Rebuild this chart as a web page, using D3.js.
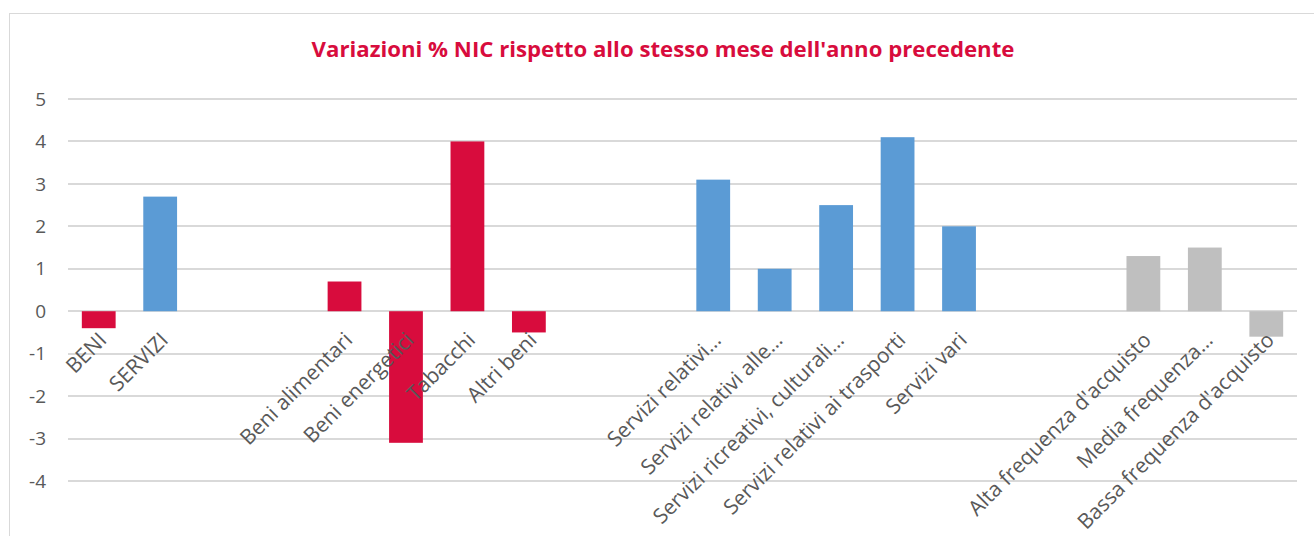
<!DOCTYPE html>
<html>
<head>
<meta charset="utf-8">
<script src="https://cdn.jsdelivr.net/npm/d3@7"></script>
<style>
  body { margin: 0; background: #fff; }
  svg { display: block; font-family: "Open Sans", sans-serif; }
</style>
</head>
<body>
<svg id="chart" width="1314" height="536"></svg>
<script>
// categories (empty strings are the blank gaps between groups)
var categories = ["BENI", "SERVIZI", "", "",
  "Beni alimentari", "Beni energetici", "Tabacchi", "Altri beni", "", "",
  "Servizi relativi…", "Servizi relativi alle…", "Servizi ricreativi, culturali…",
  "Servizi relativi ai trasporti", "Servizi vari", "", "",
  "Alta frequenza d'acquisto", "Media frequenza…", "Bassa frequenza d'acquisto"];
var values = [-0.4, 2.7, null, null,
  0.7, -3.1, 4.0, -0.5, null, null,
  3.1, 1.0, 2.5, 4.1, 2.0, null, null,
  1.3, 1.5, -0.6];
var groups = ["beni", "servizi", null, null,
  "beni", "beni", "beni", "beni", null, null,
  "servizi", "servizi", "servizi", "servizi", "servizi", null, null,
  "freq", "freq", "freq"];
var yTicks = [5, 4, 3, 2, 1, 0, -1, -2, -3, -4];
var title = "Variazioni % NIC rispetto allo stesso mese dell'anno precedente";

var colors = {beni: "#D80C3D", servizi: "#5B9BD5", freq: "#BFBFBF"};

var data = categories.map(function(c, i) {
  return {i: i, label: c, value: values[i], group: groups[i]};
});

var svg = d3.select("#chart");

// outer chart border
svg.append("rect")
  .attr("x", 9.5).attr("y", 13.5)
  .attr("width", 1320).attr("height", 540)
  .attr("fill", "none")
  .attr("stroke", "#d9d9d9");

var left = 68, right = 1297;

var x = d3.scaleBand()
  .domain(data.map(function(d) { return d.i; }))
  .range([left, right])
  .paddingInner(0.45)
  .paddingOuter(0.225);

var y = d3.scaleLinear()
  .domain([-4, 5])
  .range([481, 99]);

// gridlines
svg.append("g")
  .selectAll("line")
  .data(yTicks)
  .enter()
  .append("line")
    .attr("x1", left).attr("x2", right)
    .attr("y1", function(d) { return Math.round(y(d)); })
    .attr("y2", function(d) { return Math.round(y(d)); })
    .attr("stroke", "#d9d9d9")
    .attr("stroke-width", 2);

// y axis labels
svg.append("g")
  .selectAll("text")
  .data(yTicks)
  .enter()
  .append("text")
    .attr("x", 46)
    .attr("y", function(d) { return y(d); })
    .attr("dy", "0.35em")
    .attr("text-anchor", "end")
    .attr("fill", "#595959")
    .style("font-size", "19px")
    .text(function(d) { return d; });

// bars
svg.append("g")
  .selectAll("rect")
  .data(data.filter(function(d) { return d.value != null; }))
  .enter()
  .append("rect")
    .attr("x", function(d) { return x(d.i); })
    .attr("width", x.bandwidth())
    .attr("y", function(d) { return y(Math.max(0, d.value)); })
    .attr("height", function(d) { return Math.abs(y(d.value) - y(0)); })
    .attr("fill", function(d) { return colors[d.group]; });

// category labels, rotated
svg.append("g")
  .selectAll("text")
  .data(data.filter(function(d) { return d.label !== ""; }))
  .enter()
  .append("text")
    .attr("transform", function(d) {
      var cx = x(d.i) + x.bandwidth() / 2 - 2;
      return "translate(" + cx + "," + (y(0) + 19) + ")rotate(-45)";
    })
    .attr("text-anchor", "end")
    .attr("dy", "0.75em")
    .attr("fill", "#595959")
    .style("font-size", "21px")
    .text(function(d) { return d.label; });

// title
svg.append("text")
  .attr("x", 663)
  .attr("y", 57)
  .attr("text-anchor", "middle")
  .attr("fill", "#D80C3D")
  .style("font-size", "22.2px")
  .style("font-weight", "bold")
  .text(title);
</script>
</body>
</html>
